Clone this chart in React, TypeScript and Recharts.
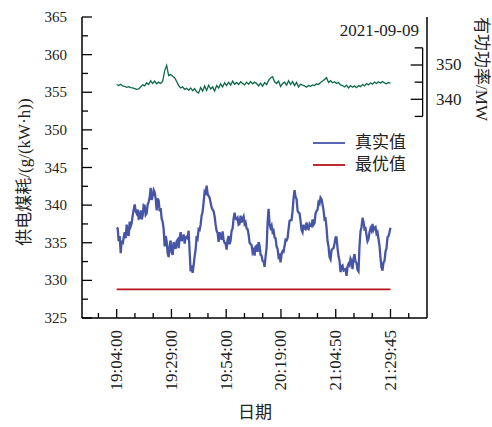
import React from 'react';
import { LineChart, Line, XAxis, YAxis, Legend, ReferenceLine } from 'recharts';

// coal consumption per kWh, sampled every ~1 px along the time axis
const REAL_VALUES = [
  337.0, 336.9, 335.2, 335.9, 333.6, 335.3, 334.8, 335.7, 336.4, 335.6,
  337.4, 336.3, 335.9, 337.8, 337.2, 337.6, 338.6, 339.4, 340.1, 339.2,
  338.9, 339.4, 338.2, 338.3, 339.3, 338.1, 338.6, 340.0, 339.9, 338.7,
  338.9, 340.1, 340.4, 341.0, 342.3, 340.7, 341.2, 342.0, 341.7, 340.9,
  339.3, 340.9, 340.6, 339.2, 339.6, 338.2, 337.8, 336.8, 334.5, 335.9,
  335.2, 333.6, 333.1, 334.6, 335.3, 333.7, 333.4, 335.1, 334.6, 334.2,
  335.2, 335.4, 334.3, 335.6, 336.4, 335.2, 335.6, 336.1, 334.9, 335.7,
  335.8, 335.6, 336.6, 333.8, 331.2, 332.0, 331.0, 332.0, 333.2, 334.1,
  335.9, 335.6, 336.8, 336.7, 337.4, 338.6, 339.1, 340.4, 341.8, 341.6,
  342.6, 341.5, 341.2, 341.0, 340.3, 339.7, 339.4, 339.2, 338.5, 337.4,
  336.6, 336.3, 335.1, 336.4, 335.8, 335.4, 336.5, 335.4, 335.0, 334.9,
  334.1, 335.4, 335.9, 334.8, 335.3, 336.6, 336.9, 338.2, 339.0, 338.2,
  338.1, 338.3, 337.4, 337.5, 338.6, 337.7, 338.2, 338.5, 337.5, 337.7,
  336.9, 336.8, 336.1, 335.0, 334.8, 334.7, 333.7, 334.0, 333.3, 334.5,
  334.6, 333.8, 335.1, 334.6, 333.4, 333.3, 332.6, 332.5, 331.8, 333.2,
  334.3, 337.6, 339.5, 337.5, 337.0, 337.3, 336.4, 336.6, 335.7, 335.6,
  334.5, 334.2, 333.1, 333.3, 332.4, 333.5, 333.9, 333.8, 334.6, 335.4,
  335.3, 335.6, 336.8, 337.9, 338.0, 338.0, 339.2, 340.9, 342.0, 341.1,
  340.8, 339.3, 339.0, 338.9, 337.9, 336.7, 336.4, 337.4, 336.9, 336.8,
  337.7, 336.9, 336.8, 337.5, 337.3, 337.2, 338.1, 337.4, 337.6, 338.9,
  339.2, 339.4, 340.4, 340.2, 341.0, 340.8, 340.1, 339.3, 338.1, 338.2,
  337.0, 335.2, 334.5, 333.1, 332.8, 334.0, 334.2, 334.3, 334.9, 335.7,
  335.7, 334.3, 333.2, 332.6, 331.1, 331.9, 332.0, 331.3, 331.4, 331.5,
  330.6, 331.8, 332.2, 332.0, 332.9, 332.6, 331.5, 332.9, 333.5, 332.5,
  332.3, 331.4, 331.2, 334.6, 336.5, 337.1, 338.3, 337.8, 336.8, 336.9,
  336.0, 335.2, 335.5, 336.4, 336.9, 336.6, 337.5, 336.7, 337.0, 337.1,
  336.2, 336.4, 335.5, 334.6, 333.0, 331.7, 331.3, 332.4, 332.6, 333.8,
  334.3, 335.7, 335.9, 336.4, 337.0,
];

// active power, MW
const POWER_VALUES = [
  344.3, 344.0, 344.4, 343.9, 343.8, 343.5, 343.7, 343.4, 343.3, 343.1,
  342.9, 343.0, 343.6, 344.2, 343.9, 344.8, 344.3, 345.4, 344.6, 345.3,
  344.5, 345.0, 344.6, 345.2, 348.3, 349.9, 346.9, 347.2, 346.7, 346.3,
  345.2, 344.0, 343.3, 343.6, 342.9, 343.2, 342.6, 343.3, 342.5, 343.1,
  342.2, 341.8, 343.4, 342.4, 343.9, 342.6, 344.1, 343.0, 343.6, 342.4,
  344.0, 343.3, 344.5, 343.6, 344.8, 344.0, 345.0, 344.1, 345.3, 344.4,
  344.9, 344.3, 345.1, 344.6, 344.2, 345.0, 344.4, 345.2, 344.5, 345.0,
  344.6, 343.9, 344.7, 343.8, 344.9, 344.3, 345.5, 346.2, 346.6, 345.1,
  344.6, 345.3, 343.7, 344.6, 345.0, 344.1, 345.4, 344.3, 345.2, 344.0,
  344.9, 343.6, 344.4, 344.1, 343.9, 343.5, 344.0, 343.8, 344.2, 344.0,
  344.5, 344.3, 344.9, 345.3, 345.8, 346.3, 344.9, 345.4, 344.8, 345.1,
  344.6, 344.9, 344.2, 344.0, 343.6, 344.1, 343.3, 344.0, 343.5, 343.9,
  343.4, 344.0, 343.7, 344.3, 343.9, 344.6, 344.2, 344.8, 344.4, 345.0,
  344.6, 345.1, 344.7, 345.2, 344.8, 344.5, 344.9, 344.7,
];

const OPTIMAL_VALUE = 328.8;

const TIME_LABELS = ['19:04:00', '19:29:00', '19:54:00', '20:19:00', '21:04:50', '21:29:45'];
const X_TICKS = [-1, 0, 1, 2, 3, 4, 5, 6, 7, 8, 9, 10, 11, 12, 13, 14, 15, 16];
const Y_TICKS = [325, 327.5, 330, 332.5, 335, 337.5, 340, 342.5, 345, 347.5, 350, 352.5, 355, 357.5, 360, 362.5, 365];
const MW_TICKS = [335, 340, 345, 350, 355];

const SERIF = "'Liberation Serif', 'Noto Sans CJK SC', serif";
const BLUE = '#4655a6';
const RED = '#b8141c';
const GREEN = '#0b6a44';
const X_SPAN = 15;

const realRows = REAL_VALUES.map((v, i) => ({ t: (i * X_SPAN) / (REAL_VALUES.length - 1), real: v }));
const powerRows = POWER_VALUES.map((v, i) => ({ t: (i * X_SPAN) / (POWER_VALUES.length - 1), mw: v }));
const optRows = [0, X_SPAN].map((t) => ({ t, opt: OPTIMAL_VALUE }));

const LEGEND_ORDER = ['real', 'opt'];

const XTick = (props: any) => {
  const { x, y, payload } = props;
  const v = payload.value as number;
  const major = v >= 0 && v % 3 === 0;
  return (
    <g>
      <line x1={x} y1={y} x2={x} y2={y - (major ? 9 : 5)} stroke="#000" strokeWidth={1.3} />
      {major && (
        <text x={x} y={y + 12} transform={`rotate(-90, ${x}, ${y + 12})`} textAnchor="end"
          dominantBaseline="central" fontFamily={SERIF} fontSize={17} fill="#222">
          {TIME_LABELS[v / 3]}
        </text>
      )}
    </g>
  );
};

const YTick = (props: any) => {
  const { x, y, payload } = props;
  const v = payload.value as number;
  const major = v % 5 === 0;
  return (
    <g>
      <line x1={x} y1={y} x2={x + (major ? 10 : 6)} y2={y} stroke="#000" strokeWidth={1.3} />
      {major && (
        <text x={x - 15} y={y} textAnchor="end" dominantBaseline="central"
          fontFamily={SERIF} fontSize={15} fill="#222">
          {v}
        </text>
      )}
    </g>
  );
};

const MwTick = (props: any) => {
  const { x, y, payload } = props;
  const v = payload.value as number;
  const major = v % 10 === 0;
  const bx = x - 4.3;
  return (
    <g>
      <line x1={bx} y1={y} x2={bx - (major ? 12 : 8)} y2={y} stroke="#000" strokeWidth={1.3} />
      {major && (
        <text x={x + 9} y={y} textAnchor="start" dominantBaseline="central"
          fontFamily={SERIF} fontSize={17} fill="#222">
          {v}
        </text>
      )}
    </g>
  );
};

const LegendBox = (props: any) => {
  const items = (props.payload || [])
    .filter((p: any) => LEGEND_ORDER.includes(p.dataKey))
    .sort((a: any, b: any) => LEGEND_ORDER.indexOf(a.dataKey) - LEGEND_ORDER.indexOf(b.dataKey));
  return (
    <div>
      {items.map((p: any) => (
        <div key={p.value} style={{ display: 'flex', alignItems: 'center', height: 22 }}>
          <svg width={32} height={4}>
            <line x1={0} y1={2} x2={32} y2={2} stroke={p.color} strokeWidth={1.8} />
          </svg>
          <span style={{ marginLeft: 10, fontSize: 17, fontFamily: SERIF, color: '#222', lineHeight: '22px' }}>
            {p.value}
          </span>
        </div>
      ))}
    </div>
  );
};

export default function App() {
  return (
    <div style={{ position: 'absolute', left: 0, top: 0, width: 492, height: 427, background: '#fff' }}>
      <LineChart width={492} height={427} margin={{ top: 17, right: 0, bottom: 0, left: 22 }}>
        <XAxis xAxisId="b" type="number" dataKey="t" domain={[-1.9, 17]} ticks={X_TICKS} interval={0}
          tickSize={0} tickMargin={0} tick={<XTick />} height={109}
          axisLine={{ stroke: '#000', strokeWidth: 1.5 }} />
        <XAxis xAxisId="top" orientation="top" type="number" dataKey="t" domain={[-1.9, 17]}
          tick={false} tickLine={false} height={0} axisLine={{ stroke: '#000', strokeWidth: 1.5 }} />
        <YAxis yAxisId="L" type="number" domain={[325, 365]} ticks={Y_TICKS} interval={0}
          tickSize={0} tickMargin={0} tick={<YTick />} width={60}
          axisLine={{ stroke: '#000', strokeWidth: 1.5 }} />
        <YAxis yAxisId="R" orientation="right" type="number" domain={[276.2, 364]} ticks={MW_TICKS} interval={0}
          tickSize={0} tickMargin={0} tick={<MwTick />} width={65}
          axisLine={{ stroke: '#000', strokeWidth: 1.5 }} />
        <ReferenceLine xAxisId="b" yAxisId="R" stroke="#000" strokeWidth={1.3}
          segment={[{ x: 16.76, y: MW_TICKS[0] }, { x: 16.76, y: MW_TICKS[MW_TICKS.length - 1] }]} />
        <Line data={powerRows} xAxisId="b" yAxisId="R" dataKey="mw" stroke={GREEN} strokeWidth={1.3} dot={false}
          legendType="none" isAnimationActive={false} />
        <Line data={realRows} xAxisId="b" yAxisId="L" dataKey="real" name="真实值" stroke={BLUE} strokeWidth={2.3}
          dot={false} type="linear" isAnimationActive={false} />
        <Line data={optRows} xAxisId="b" yAxisId="L" dataKey="opt" name="最优值" stroke={RED} strokeWidth={1.8}
          dot={false} isAnimationActive={false} />
        <Legend layout="vertical" align="center" verticalAlign="middle" content={<LegendBox />}
          wrapperStyle={{ top: 132, left: 313, width: 110 }} />
      </LineChart>
      <svg width={492} height={427} style={{ position: 'absolute', left: 0, top: 0, pointerEvents: 'none' }}>
        <text x={24} y={172} transform="rotate(-90, 24, 172)" textAnchor="middle" dominantBaseline="central"
          fontFamily={SERIF} fontSize={17} fill="#222">
          供电煤耗/(g/(kW·h))
        </text>
        <text x={481} y={69} transform="rotate(90, 481, 69)" textAnchor="middle" dominantBaseline="central"
          fontFamily={SERIF} fontSize={17} fill="#222">
          有功功率/MW
        </text>
        <text x={255} y={412} textAnchor="middle" dominantBaseline="central" fontFamily={SERIF} fontSize={17} fill="#222">
          日期
        </text>
        <text x={419} y={30} textAnchor="end" dominantBaseline="central" fontFamily={SERIF} fontSize={17} fill="#222">
          2021-09-09
        </text>
      </svg>
    </div>
  );
}
